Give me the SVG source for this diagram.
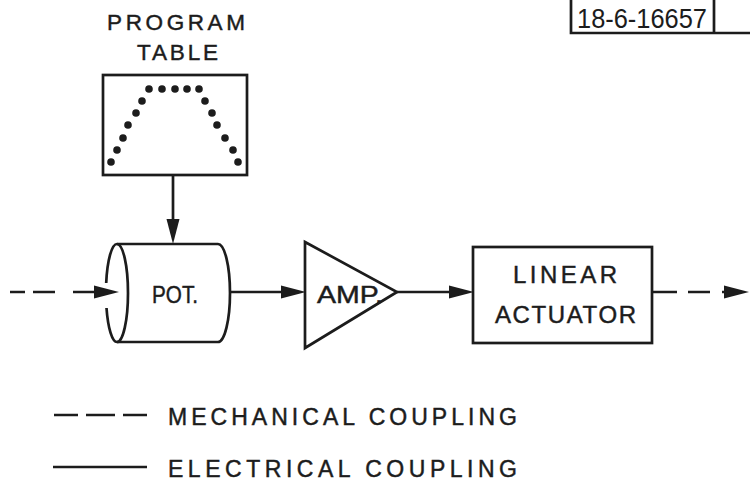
<svg xmlns="http://www.w3.org/2000/svg" width="750" height="481" viewBox="0 0 750 481">
<style>
.ln{fill:none;stroke:#1c1c1c;stroke-width:2.7}
.dsh{fill:none;stroke:#1c1c1c;stroke-width:2.7}
.dot{fill:#1c1c1c}
.t{font-family:"Liberation Sans",Arial,sans-serif;fill:#1c1c1c;stroke:#1c1c1c;stroke-width:0.45}
</style>
<defs>
<marker id="ah" markerUnits="userSpaceOnUse" markerWidth="26" markerHeight="14" refX="14" refY="7" orient="auto">
<path d="M0,0.5 L25,7 L0,13.5 z" fill="#1c1c1c"/>
</marker>
</defs>
<rect width="750" height="481" fill="#ffffff"/>

<g id="label-box">
<path class="ln" d="M571,0 V33 H714 V0 M714,33 H750"/>
<text class="t" x="577" y="28" font-size="27" textLength="130" lengthAdjust="spacingAndGlyphs" style="stroke-width:0">18-6-16657</text>
</g>

<g id="program-table">
<text class="t" x="107" y="30" font-size="22.5" textLength="138" lengthAdjust="spacing">PROGRAM</text>
<text class="t" x="137" y="60" font-size="22.5" textLength="81" lengthAdjust="spacing">TABLE</text>
<rect class="ln" x="103" y="75" width="144" height="100"/>
<circle class="dot" cx="149" cy="89" r="3.8"/>
<circle class="dot" cx="162" cy="89" r="3.8"/>
<circle class="dot" cx="175" cy="89" r="3.8"/>
<circle class="dot" cx="187" cy="89" r="3.8"/>
<circle class="dot" cx="199" cy="89" r="3.8"/>
<circle class="dot" cx="142" cy="101" r="3.8"/>
<circle class="dot" cx="136" cy="113" r="3.8"/>
<circle class="dot" cx="128" cy="125" r="3.8"/>
<circle class="dot" cx="123" cy="138" r="3.8"/>
<circle class="dot" cx="117" cy="150" r="3.8"/>
<circle class="dot" cx="111" cy="162" r="3.8"/>
<circle class="dot" cx="205" cy="101" r="3.8"/>
<circle class="dot" cx="212" cy="113" r="3.8"/>
<circle class="dot" cx="217" cy="125" r="3.8"/>
<circle class="dot" cx="225" cy="138" r="3.8"/>
<circle class="dot" cx="233" cy="150" r="3.8"/>
<circle class="dot" cx="238" cy="162" r="3.8"/>
</g>

<g id="pot">
<path class="ln" d="M117,244 H218 A12,49 0 0 1 218,342 H117"/>
<path class="ln" d="M117,244 A11,49 0 0 1 117,342"/>
<path class="ln" d="M117,244 A11,49 0 0 0 106.2,283 M106.5,308 A11,49 0 0 0 117,342"/>
<text class="t" x="152" y="303" font-size="24" textLength="46" lengthAdjust="spacingAndGlyphs">POT.</text>
</g>

<g id="amp">
<path class="ln" d="M305,242 L397,292 L305,348 Z"/>
<text class="t" x="317" y="303" font-size="23" textLength="66" lengthAdjust="spacingAndGlyphs">AMP.</text>
</g>

<g id="linear-actuator">
<rect class="ln" x="473" y="247" width="179" height="96"/>
<text class="t" x="513" y="283" font-size="24" textLength="104" lengthAdjust="spacing">LINEAR</text>
<text class="t" x="495" y="323" font-size="24" textLength="141" lengthAdjust="spacing">ACTUATOR</text>
</g>

<g id="connectors">
<path class="dsh" d="M10,292 H108" stroke-dasharray="15 8 22 18 60" marker-end="url(#ah)"/>
<path class="ln" d="M173,175 V233" marker-end="url(#ah)"/>
<path class="ln" d="M230,292 H295" marker-end="url(#ah)"/>
<path class="ln" d="M397,292 H463" marker-end="url(#ah)"/>
<path class="dsh" d="M652,292 H738" stroke-dasharray="25 11 22 12 40" marker-end="url(#ah)"/>
</g>

<g id="legend">
<path class="dsh" d="M54,415 H147" stroke-dasharray="24 8 29 8 24"/>
<text class="t" x="168" y="425" font-size="23" textLength="349" lengthAdjust="spacing">MECHANICAL COUPLING</text>
<path class="ln" d="M53,467 H147"/>
<text class="t" x="168" y="477" font-size="23" textLength="349" lengthAdjust="spacing">ELECTRICAL COUPLING</text>
</g>
</svg>
